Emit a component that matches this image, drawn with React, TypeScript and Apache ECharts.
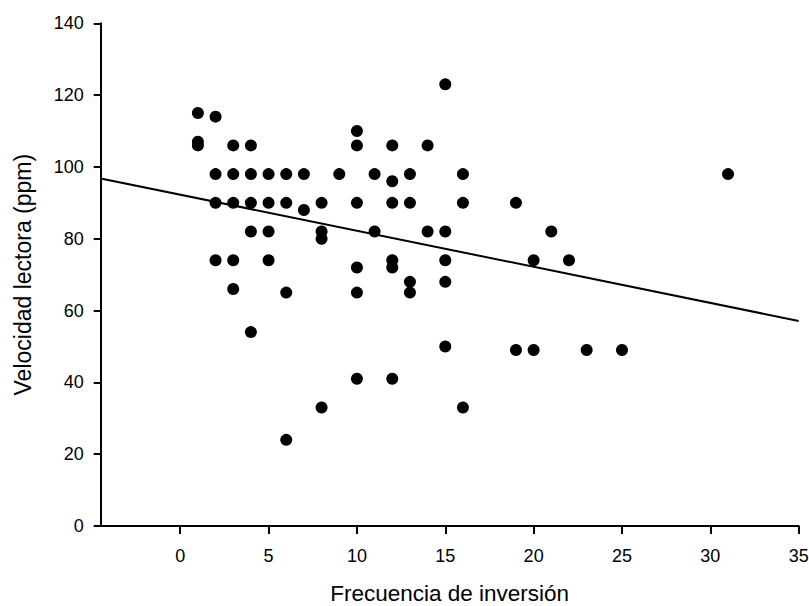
import React, { useEffect, useRef } from "react";
import * as echarts from "echarts";

const frecuencia = [
  1, 1, 1, 2, 2, 2, 2, 3, 3, 3, 3, 3, 4, 4, 4, 4, 4, 5, 5, 5, 5, 6, 6, 6, 6, 7, 7,
  8, 8, 8, 8, 9, 10, 10, 10, 10, 10, 10, 11, 11, 12, 12, 12, 12, 12, 12, 13, 13,
  13, 13, 14, 14, 15, 15, 15, 15, 15, 16, 16, 16, 19, 19, 20, 20, 21, 22, 23, 25, 31,
];
const velocidad = [
  115, 107, 106, 114, 98, 90, 74, 106, 98, 90, 74, 66, 106, 98, 90, 82, 54, 98, 90,
  82, 74, 98, 90, 65, 24, 98, 88, 90, 82, 80, 33, 98, 110, 106, 90, 72, 65, 41, 98,
  82, 106, 96, 90, 74, 72, 41, 98, 90, 68, 65, 106, 82, 123, 82, 74, 68, 50, 98, 90,
  33, 90, 49, 74, 49, 82, 74, 49, 49, 98,
];
const regresionX = [-4.5, 35];
const regresionY = [96.8, 57.1];
const xTicks = [0, 5, 10, 15, 20, 25, 30, 35];

const FONT = "'Liberation Sans', Arial, Helvetica, sans-serif";

export default function App() {
  const ref = useRef<HTMLDivElement>(null);
  useEffect(() => {
    if (!ref.current) return;
    const chart = echarts.init(ref.current, null, { renderer: "svg" });
    const points = frecuencia.map((x, i) => [x, velocidad[i]]);
    const line = regresionX.map((x, i) => [x, regresionY[i]]);
    chart.setOption({
      animation: false,
      backgroundColor: "#fff",
      grid: {
        left: 100.7,
        right: 10.3,
        top: 23.3,
        bottom: 80,
        containLabel: false,
        outerBoundsMode: "none",
      },
      xAxis: {
        type: "value",
        min: -4.5,
        max: 35,
        name: "Frecuencia de inversión",
        nameLocation: "middle",
        nameGap: 57,
        nameTextStyle: { color: "#000", fontSize: 22.5, lineHeight: 20, fontFamily: FONT },
        splitLine: { show: false },
        axisLine: { show: true, onZero: false, lineStyle: { color: "#000", width: 2 } },
        axisTick: {
          show: true,
          length: 8,
          customValues: xTicks,
          lineStyle: { color: "#000", width: 2 },
        },
        axisLabel: {
          color: "#000",
          fontSize: 18,
          fontFamily: FONT,
          margin: 20.5,
          customValues: xTicks,
          hideOverlap: false,
          showMaxLabel: true,
        },
      },
      yAxis: {
        type: "value",
        min: 0,
        max: 140,
        interval: 20,
        name: "Velocidad lectora (ppm)",
        nameLocation: "middle",
        nameGap: 66,
        nameTextStyle: { color: "#000", fontSize: 23, fontFamily: FONT },
        splitLine: { show: false },
        axisLine: { show: true, onZero: false, lineStyle: { color: "#000", width: 2 } },
        axisTick: { show: true, length: 7, lineStyle: { color: "#000", width: 2 } },
        axisLabel: { color: "#000", fontSize: 18, fontFamily: FONT, margin: 17 },
      },
      series: [
        {
          type: "line",
          data: line,
          symbol: "none",
          lineStyle: { color: "#000", width: 2 },
          z: 1,
        },
        {
          type: "scatter",
          data: points,
          symbolSize: 12,
          itemStyle: { color: "#000", opacity: 1 },
          z: 2,
        },
      ],
    });
    return () => chart.dispose();
  }, []);
  return (
    <div
      ref={ref}
      style={{ position: "absolute", left: 0, top: 0, width: 809, height: 606 }}
    />
  );
}
